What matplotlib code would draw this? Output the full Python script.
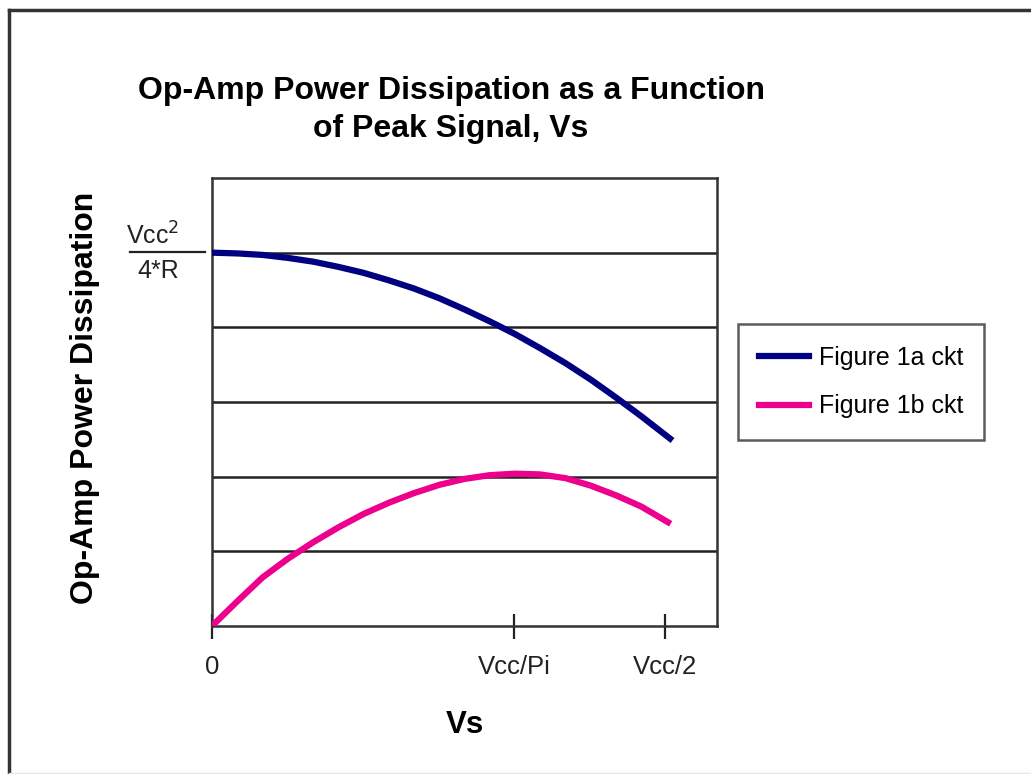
import matplotlib
matplotlib.use("Agg")
import matplotlib.pyplot as plt
from matplotlib.lines import Line2D

plt.rcParams['font.family'] = ['Liberation Sans', 'DejaVu Sans']

# values (x: fraction of axis width, y: gridline units)
vs_1a = [0, 0.05, 0.1, 0.15, 0.2, 0.25, 0.3, 0.35, 0.4, 0.45, 0.5, 0.55, 0.6, 0.65, 0.7, 0.75, 0.8, 0.85, 0.907]
pd_1a = [5.0, 4.99, 4.97, 4.93, 4.88, 4.81, 4.73, 4.63, 4.52, 4.39, 4.24, 4.08, 3.91, 3.72, 3.52, 3.30, 3.06, 2.81, 2.51]
vs_1b = [0, 0.05, 0.1, 0.15, 0.2, 0.25, 0.3, 0.35, 0.4, 0.45, 0.5, 0.55, 0.6, 0.65, 0.7, 0.75, 0.8, 0.85, 0.903]
pd_1b = [0, 0.33, 0.65, 0.9, 1.12, 1.32, 1.5, 1.65, 1.78, 1.89, 1.97, 2.02, 2.04, 2.03, 1.98, 1.88, 1.75, 1.6, 1.39]
tick_pos = [0, 0.598, 0.897]
tick_lbl = ["0", "Vcc/Pi", "Vcc/2"]
grid_y = [1, 2, 3, 4, 5]

fig = plt.figure(figsize=(10.31, 7.74), dpi=100)
ax = fig.add_axes([212/1031, 1-626/774, 505/1031, 448/774])

for g in grid_y:
    ax.axhline(g, color='#222222', lw=1.8, zorder=1)

ax.plot(vs_1a, pd_1a, color='#000080', lw=4.5, label='Figure 1a ckt', zorder=3)
ax.plot(vs_1b, pd_1b, color='#ec008c', lw=4.5, label='Figure 1b ckt', zorder=3)

ax.set_xlim(0, 1)
ax.set_ylim(0, 6)
ax.set_xticks(tick_pos)
ax.set_xticklabels(tick_lbl, fontsize=18.5, color='#222222')
ax.tick_params(axis='x', direction='inout', length=18, width=1.6, pad=12, color='#222222')
ax.set_yticks([])
for s in ax.spines.values():
    s.set_color('#333333')
    s.set_linewidth(1.8)

ax.set_xlabel("Vs", fontsize=22.5, fontweight='bold', labelpad=22)
fig.text(85/1031, 1-398/774, "Op-Amp Power Dissipation", rotation=90,
         fontsize=23, fontweight='bold', ha='center', va='center')
fig.text(451/1031, 1-110/774, "Op-Amp Power Dissipation as a Function\nof Peak Signal, Vs",
         fontsize=23, fontweight='bold', ha='center', va='center', linespacing=1.35)

# Vcc^2 / 4*R label on the y axis
fig.text(153/1031, 1-236/774, r"Vcc$^{2}$", fontsize=18, color='#222222', ha='center', va='center')
fig.text(158/1031, 1-271/774, "4*R", fontsize=18, color='#222222', ha='center', va='center')
fig.add_artist(Line2D([130/1031, 205/1031], [1-252/774, 1-252/774], color='#222222', lw=1.6))

leg = ax.legend(loc='center', bbox_to_anchor=(861/1031, 1-382/774), bbox_transform=fig.transFigure,
                fontsize=18, frameon=True, fancybox=False, handlelength=2.0,
                borderpad=0.85, labelspacing=1.0, handletextpad=0.4, borderaxespad=0)
leg.get_frame().set_edgecolor('#333333')
leg.get_frame().set_linewidth(1.8)

# outer frame of the picture
fig.add_artist(Line2D([9/1031, 9/1031], [0, 1-10/774], color='#333333', lw=2.5))
fig.add_artist(Line2D([9/1031, 1], [1-10/774, 1-10/774], color='#333333', lw=2.5))
fig.add_artist(Line2D([9/1031, 1], [1/774, 1/774], color='#e6e6e6', lw=1))

fig.savefig("out.png", dpi=100)
